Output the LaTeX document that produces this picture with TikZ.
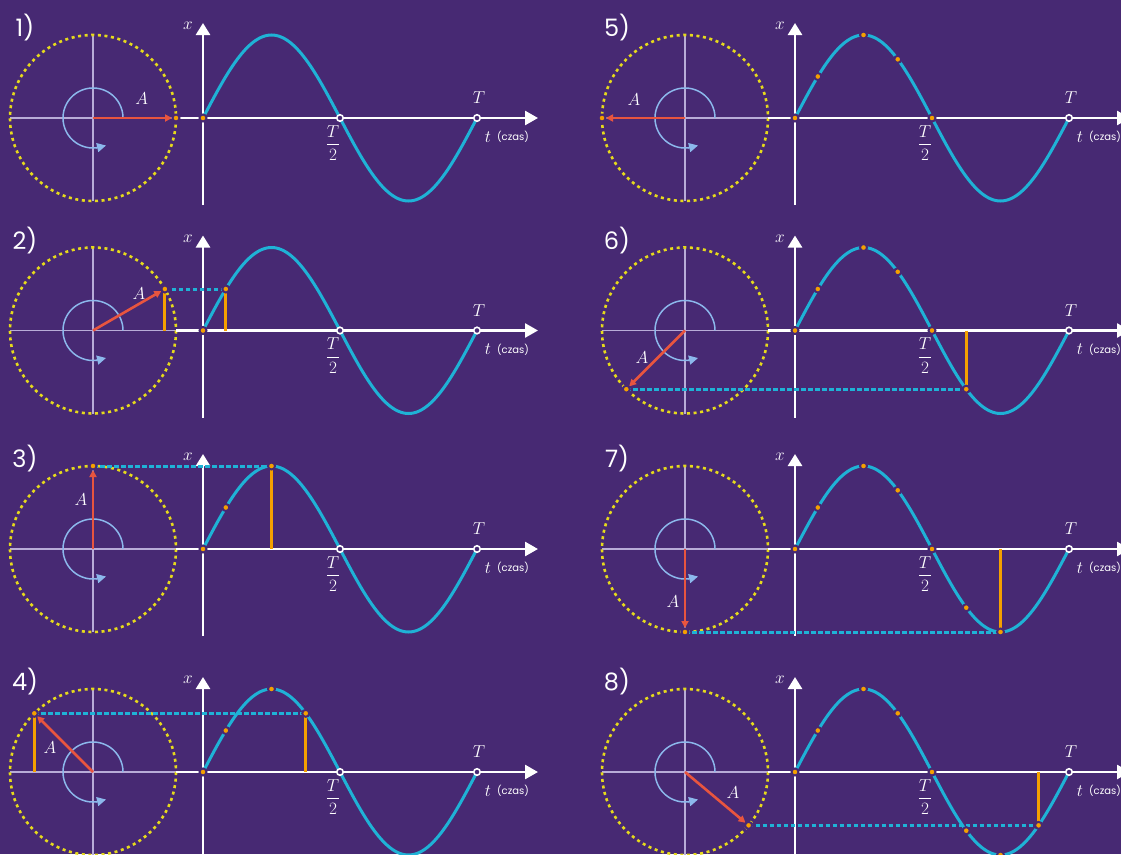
\documentclass[tikz,border=0pt]{standalone}
\usepackage{fontspec}
\newfontfamily\popfont{Poppins}
\usetikzlibrary{arrows.meta}
\definecolor{bgc}{HTML}{472973}
\definecolor{lav}{HTML}{B8ACD8}
\definecolor{yel}{HTML}{E6DA1C}
\definecolor{cyanc}{HTML}{1FB2D6}
\definecolor{orc}{HTML}{F5A000}
\definecolor{redc}{HTML}{E8553F}
\definecolor{arcblue}{HTML}{8CB8EC}
\tikzset{
 circaxis/.style={draw=lav, line width=1.5pt},
 dotcirc/.style={draw=yel, line width=2.6pt, dash pattern=on 3pt off 3.6pt},
 mainaxis/.style={draw=white, line width=2.6pt},
 sinecurve/.style={draw=cyanc, line width=3pt},
 rotarc/.style={draw=arcblue, line width=1.5pt},
 rottip/.style={draw=arcblue, line width=1.5pt, -{Triangle[length=9pt,width=9pt]}},
 vecarrow/.style={draw=redc, line width=2.6pt, -{Triangle[length=7pt,width=7pt]}, shorten >=4pt},
 projline/.style={draw=cyanc, line width=3pt, dash pattern=on 4.5pt off 2.5pt},
 vline/.style={draw=orc, line width=3pt},
 odot/.style={circle, fill=orc, draw=bgc, line width=2pt, inner sep=0pt, minimum size=7pt},
 hollow/.style={circle, fill=bgc, draw=white, line width=1.6pt, inner sep=0pt, minimum size=6.5pt},
 plabel/.style={text=white, font=\popfont\fontsize{24}{28}\selectfont},
 mlabel/.style={text=white, font=\fontsize{17}{19}\selectfont},
 smalllabel/.style={text=white, font=\popfont\fontsize{10}{12}\selectfont},
}
% #1 xoff, #2 y0, #3 number, #4 angle, #5 Ax, #6 Ay, #7 projection, #8 circle line
\newcommand\oscpanel[8]{%
\begin{scope}[shift={(#1,#2)}]
 \coordinate (C#3) at (93,0);
 \coordinate (G#3) at (203,0);
 \coordinate (E#3) at (176,0);
 \coordinate (W#3) at (10,0);
 \coordinate (N#3) at (93,-83);
 \coordinate (S#3) at (93,83);
 \coordinate (Tend#3) at (538,0);
 \coordinate (Xb#3) at (203,87);
 \coordinate (Xt#3) at (203,-95);
 \coordinate (P#3) at ({93+83*cos(#4)},{-83*sin(#4)});
 \coordinate (Q#3) at ({203+0.761111*#4},{-83*sin(#4)});
 \coordinate (Pb#3) at ({93+83*cos(#4)},0);
 \coordinate (Qb#3) at ({203+0.761111*#4},0);
 \coordinate (Ra#3) at ({93+30*cos(276)},{-30*sin(276)});
 \coordinate (Rb#3) at (106,27.5);
 \path[circaxis] (W#3) -- (E#3) (N#3) -- (S#3);
 \path[dotcirc] (C#3) circle[radius=83];
 \path[mainaxis, -{Triangle[length=13pt,width=14pt]}] (E#3) -- (Tend#3);
 \path[mainaxis, -{Triangle[length=12pt,width=14pt]}] (Xb#3) -- (Xt#3);
 \path[sinecurve] plot[domain=0:360, samples=121] ({203+0.761111*\x},{-83*sin(\x)});
 \path[rotarc] plot[domain=0:278, samples=80] ({93+30*cos(\x)},{-30*sin(\x)});
 \path[rottip] (Ra#3) -- (Rb#3);
 \ifnum#7=1 \path[vline] (Qb#3) -- (Q#3); \path[projline] (P#3) -- (Q#3); \fi
 \ifnum#8=1 \path[vline] (Pb#3) -- (P#3); \fi
 \path[vecarrow] (C#3) -- (P#3);
 \node[odot] (Z#3) at (G#3) {};
 \foreach \a in {30,90,135,180,225,270,320} {%
   \ifdim\a pt>#4pt\relax\else
     \node[odot] (D#3-\a) at ({203+0.761111*\a},{-83*sin(\a)}) {};
   \fi}
 \ifdim#4pt<180pt \node[hollow] (H#3) at (340,0) {};\fi
 \node[hollow] (TT#3) at (477,0) {};
 \node[odot] (Ptip#3) at (P#3) {};
 \node[plabel] (L#3) at (25,-90) {#3)};
 \node[mlabel] (xl#3) at (188,-92) {$x$};
 \node[mlabel] (Tl#3) at (479,-20) {$T$};
 \node[mlabel] (tl#3) at (488,19) {$t$};
 \node[smalllabel] (cz#3) at (513,19) {(czas)};
 \node[mlabel] (Th#3) at (333,25) {$\displaystyle\frac{T}{2}$};
 \node[mlabel] (A#3) at (#5,#6) {$A$};
\end{scope}}
\begin{document}
\begin{tikzpicture}[x=1pt,y=-1pt]
 \useasboundingbox (0,0) rectangle (1121,854);
 \fill[bgc] (0,0) rectangle (1121,854);
 \clip (0,0) rectangle (1121,854);
 \oscpanel{0}{118}{1}{0}{141.7}{-19.7}{0}{0}
 \oscpanel{0}{330.5}{2}{30}{139}{-37}{1}{1}
 \oscpanel{0}{549}{3}{90}{81}{-49}{1}{0}
 \oscpanel{0}{772}{4}{135}{50}{-24}{1}{1}
 \oscpanel{592}{118}{5}{180}{42}{-18}{0}{0}
 \oscpanel{592}{330.5}{6}{225}{50}{27}{1}{0}
 \oscpanel{592}{549}{7}{270}{81}{53}{1}{0}
 \oscpanel{592}{772}{8}{320}{141}{21}{1}{0}
\end{tikzpicture}
\end{document}
